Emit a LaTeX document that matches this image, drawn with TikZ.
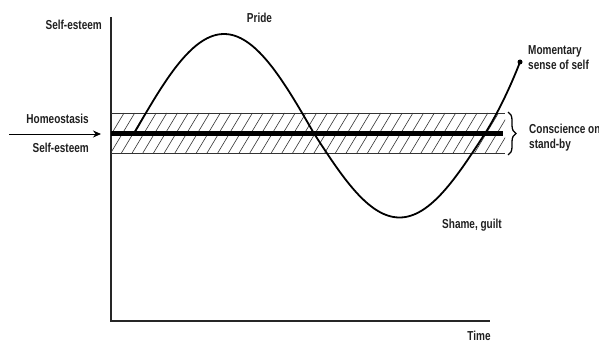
\documentclass[tikz,border=0pt]{standalone}
\usepackage{fontspec}
\setmainfont{Liberation Sans}
\newfontfamily\labfont[FakeStretch=0.77]{Liberation Sans Bold}
\usetikzlibrary{arrows.meta,decorations.pathreplacing}
\begin{document}
\begin{tikzpicture}[x=1pt,y=-1pt,
  lab/.style={font=\labfont\fontsize{13}{15}\selectfont, inner sep=0pt, text=black!88},
  axisline/.style={line width=1.5pt, black!85},
  bandline/.style={line width=0.8pt, black!80},
  hatchline/.style={line width=0.6pt, black!80},
  baseline/.style={line width=5.6pt, black},
  curve/.style={line width=1.8pt, black, line cap=round},
  bracestyle/.style={decorate, decoration={brace, amplitude=8pt}, line width=1.3pt}]
\useasboundingbox (0,0) rectangle (599,342);
% axes
\coordinate (ytop) at (111,17);
\coordinate (origin) at (111,321);
\coordinate (xend) at (490,321);
\draw[axisline] (ytop) -- (origin) -- (xend);
% band
\coordinate (bandTL) at (111,113);
\coordinate (bandBR) at (505,153);
\begin{scope}
  \clip (bandTL) rectangle (bandBR);
  \foreach \i in {0,...,40} {
    \draw[hatchline] ({100+\i*10.7},153) -- ({100+\i*10.7+24},113);
  }
\end{scope}
\draw[bandline] (bandTL) -- (505,113);
\draw[bandline] (111,153) -- (bandBR);
\coordinate (homL) at (111,133.5);
\coordinate (homR) at (503,133.5);
\draw[baseline] (homL) -- (homR);
% arrow
\coordinate (arrS) at (9,134);
\coordinate (arrE) at (101,134);
\draw[line width=1pt, -{Stealth[length=8pt,width=7pt]}] (arrS) -- (arrE);
% curve
\node[circle, fill=black, inner sep=0pt, minimum size=5pt] (endpt) at (520,62) {};
\draw[curve] plot[domain=134:314, samples=70] (\x, {133.5 - 99.5*sin(\x-134)})
  -- plot[domain=314:485, samples=70] (\x, {133.5 + 84*sin((\x-314)/171*180)})
  .. controls (497,114.5) and (510,88) .. (endpt.center);
% brace
\coordinate (brT) at (508,112);
\coordinate (brB) at (508,155);
\draw[bracestyle] (brT) -- (brB);
% labels
\node[lab, anchor=base east] (se1) at (102,30) {Self-esteem};
\node[lab, anchor=base east] (homeo) at (89,124) {Homeostasis};
\node[lab, anchor=base east] (se2) at (89,152) {Self-esteem};
\node[lab, anchor=base] (pride) at (259.5,22.7) {Pride};
\node[lab, anchor=base west] (shame) at (442,228) {Shame, guilt};
\node[lab, anchor=base west] (mom1) at (528,55) {Momentary};
\node[lab, anchor=base west] (mom2) at (528,70) {sense of self};
\node[lab, anchor=base west] (cons1) at (529,133) {Conscience on};
\node[lab, anchor=base west] (cons2) at (529,148) {stand-by};
\node[lab, anchor=base] (time) at (479,340) {Time};
\end{tikzpicture}
\end{document}
